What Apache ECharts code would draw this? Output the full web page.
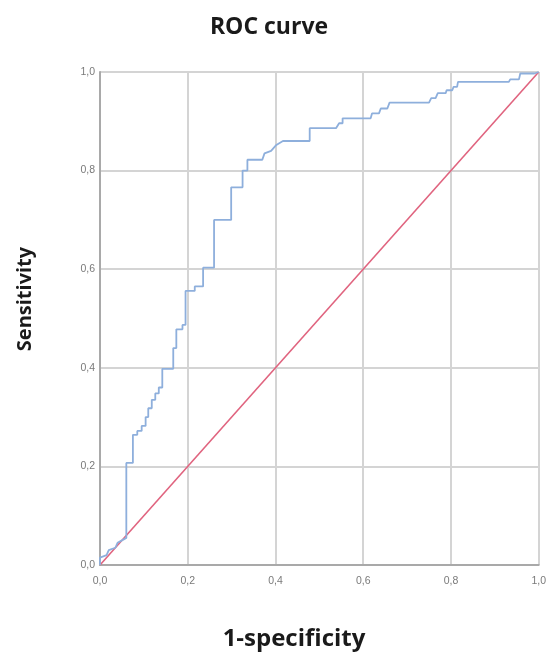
<!DOCTYPE html>
<html>
<head>
<meta charset="utf-8">
<script src="https://cdn.jsdelivr.net/npm/echarts@6/dist/echarts.min.js"></script>
<style>html,body{margin:0;padding:0;background:#fff;}#c{width:549px;height:652px;}</style>
</head>
<body>
<div id="c"></div>
<script>
var titleText = 'ROC curve';
var xName = '1-specificity';
var yName = 'Sensitivity';
var tickValues = [0, 0.2, 0.4, 0.6, 0.8, 1.0];

// ROC curve vertices (1-specificity, sensitivity)
var rocFpr = [0, 0, 0.015, 0.02, 0.035, 0.04, 0.05, 0.06, 0.06, 0.075, 0.075, 0.085, 0.085, 0.095, 0.095, 0.104, 0.104, 0.11, 0.11, 0.118, 0.118, 0.126, 0.126, 0.134, 0.134, 0.142, 0.142, 0.167, 0.167, 0.174, 0.174, 0.188, 0.188, 0.195, 0.195, 0.216, 0.216, 0.235, 0.235, 0.26, 0.26, 0.299, 0.299, 0.325, 0.325, 0.336, 0.336, 0.37, 0.375, 0.39, 0.402, 0.417, 0.478, 0.478, 0.538, 0.545, 0.553, 0.553, 0.617, 0.62, 0.636, 0.64, 0.655, 0.66, 0.75, 0.755, 0.765, 0.77, 0.788, 0.79, 0.803, 0.806, 0.814, 0.816, 0.932, 0.935, 0.955, 0.958, 0.99, 1.0];
var rocTpr = [0, 0.015, 0.02, 0.03, 0.035, 0.045, 0.05, 0.055, 0.207, 0.207, 0.264, 0.264, 0.272, 0.272, 0.282, 0.282, 0.30, 0.30, 0.318, 0.318, 0.335, 0.335, 0.348, 0.348, 0.36, 0.36, 0.398, 0.398, 0.44, 0.44, 0.478, 0.478, 0.487, 0.487, 0.556, 0.556, 0.565, 0.565, 0.603, 0.603, 0.70, 0.70, 0.766, 0.766, 0.80, 0.80, 0.822, 0.822, 0.835, 0.84, 0.852, 0.86, 0.86, 0.886, 0.886, 0.896, 0.896, 0.906, 0.906, 0.916, 0.916, 0.926, 0.926, 0.938, 0.938, 0.947, 0.947, 0.957, 0.957, 0.963, 0.963, 0.97, 0.97, 0.98, 0.98, 0.985, 0.985, 0.997, 0.997, 1.0];

// Reference line
var refX = [0, 1];
var refY = [0, 1];

var rocData = rocFpr.map(function (x, i) { return [x, rocTpr[i]]; });
var refData = refX.map(function (x, i) { return [x, refY[i]]; });

function fmt(v) { return v.toFixed(1).replace('.', ','); }

var chart = echarts.init(document.getElementById('c'), null, { renderer: 'canvas' });
var axisCommon = {
  type: 'value', min: tickValues[0], max: tickValues[tickValues.length - 1], interval: 0.2,
  axisLine: { show: true, lineStyle: { color: '#a9a9a9', width: 2 } },
  axisTick: { show: false },
  splitLine: { show: true, lineStyle: { color: '#d4d4d4', width: 2 } },
  axisLabel: { formatter: fmt, color: '#7a7a7a', fontSize: 10.5, fontFamily: 'Liberation Sans' }
};
chart.setOption({
  animation: false,
  backgroundColor: '#ffffff',
  grid: { left: 100, right: 9, top: 72, bottom: 87, containLabel: false },
  xAxis: Object.assign({}, axisCommon, {
    axisLabel: Object.assign({}, axisCommon.axisLabel, { margin: 11 })
  }),
  yAxis: Object.assign({}, axisCommon, {
    axisLabel: Object.assign({}, axisCommon.axisLabel, { margin: 5 })
  }),
  graphic: [
    { type: 'text', x: 269, y: 27, style: { text: titleText, font: 'bold 23px "Open Sans"', fill: '#1a1a1a', align: 'center', verticalAlign: 'middle' } },
    { type: 'text', x: 294, y: 639, style: { text: xName, font: 'bold 24px "Open Sans"', fill: '#1a1a1a', align: 'center', verticalAlign: 'middle' } },
    { type: 'text', x: 25, y: 299, rotation: Math.PI / 2, style: { text: yName, font: 'bold 20px "Open Sans"', fill: '#1a1a1a', align: 'center', verticalAlign: 'middle' } }
  ],
  series: [
    { type: 'line', data: refData, symbol: 'none', lineStyle: { color: '#e0647f', width: 1.6 }, z: 2 },
    { type: 'line', data: rocData, symbol: 'none', lineStyle: { color: '#8eafdc', width: 1.8 }, z: 3 }
  ]
});
</script>
</body>
</html>
